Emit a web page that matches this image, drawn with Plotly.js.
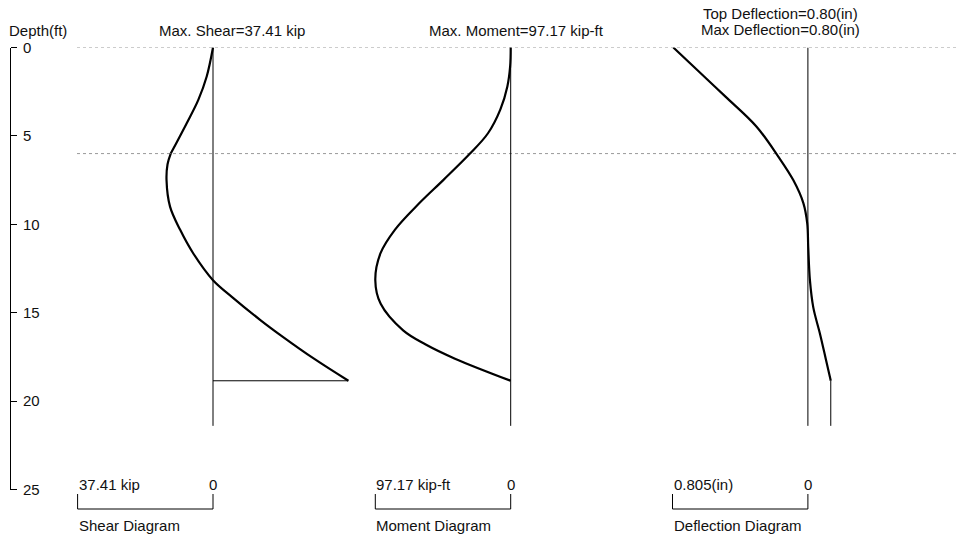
<!DOCTYPE html>
<html>
<head>
<meta charset="utf-8">
<script src="https://cdn.plot.ly/plotly-3.0.1.min.js"></script>
<style>html,body{margin:0;padding:0;background:#fff;}#chart{width:956px;height:537px;}</style>
</head>
<body>
<div id="chart"></div>
<script>
// ---------------- DATA ----------------
const depthTicks = [0, 5, 10, 15, 20, 25];
const layerDepths = [0, 6.0];
const pileTip = 18.85;
const zeroLineEnd = 21.4;

const maxShear = 37.41;      // kip
const maxMoment = 97.17;     // kip-ft
const maxDefl = 0.805;       // in (scale)
const topDefl = 0.80;

// Shear (kip), negative = left
const shearDepth = [0, 1.64, 2.96, 4.28, 6.0, 6.6, 7.5, 9.0, 10.3, 11.65, 13.16, 14.1, 15.4, 16.35, 17.6, 18.85];
const shearVal   = [0, -1.74, -4.06, -7.26, -11.68, -12.56, -12.84, -11.87, -9.11, -5.44, 0, 5.2, 13.0, 19.2, 27.9, 37.41];

// Moment (kip-ft)
const momentDepth = [0, 1.07, 2.2, 3.5, 4.85, 6.0, 7.5, 8.8, 10.3, 11.65, 13.16, 14.5, 16.0, 16.8, 17.6, 18.85];
const momentVal   = [0, -0.4, -2.4, -7.4, -16.3, -29.2, -48.4, -65.5, -83.0, -93.5, -97.17, -93.3, -77.2, -61.0, -40.0, 0];

// Deflection (in)
const deflDepth = [0, 1.64, 2.78, 4.48, 6.17, 7.5, 8.8, 9.95, 11.3, 13.16, 14.7, 16.2, 17.6, 18.85];
const deflVal   = [-0.80, -0.617, -0.49, -0.305, -0.176, -0.087, -0.027, -0.004, 0.002, 0.012, 0.032, 0.072, 0.106, 0.136];

// ---------------- LAYOUT CONSTANTS ----------------
const W = 956, H = 537;
const y0px = 47.5, y25px = 489.5;
const barLen = 135.4;
const shearZeroPx = 213.0, momentZeroPx = 510.7, deflZeroPx = 807.9;
const FONT = {family: 'Liberation Sans, Arial, sans-serif', size: 15, color: '#111'};

function xRange(zeroPx, full) { const k = barLen / full; return [-zeroPx / k, (W - zeroPx) / k]; }
function py(p) { return 1 - p / H; }
function px(p) { return p / W; }

const curve = {color: '#000', width: 2.2, shape: 'spline', smoothing: 1};
const thin = {color: '#000', width: 1};

// split shear at layer boundary to keep the kink
const kIdx = shearDepth.indexOf(layerDepths[1]);
const traces = [
  {x: shearVal.slice(0, kIdx + 1), y: shearDepth.slice(0, kIdx + 1), xaxis: 'x', yaxis: 'y', mode: 'lines', line: curve},
  {x: shearVal.slice(kIdx), y: shearDepth.slice(kIdx), xaxis: 'x', yaxis: 'y', mode: 'lines', line: curve},
  {x: [0, 0], y: [0, zeroLineEnd], xaxis: 'x', yaxis: 'y', mode: 'lines', line: thin},
  {x: [shearVal[shearVal.length - 1], 0], y: [pileTip, pileTip], xaxis: 'x', yaxis: 'y', mode: 'lines', line: thin},

  {x: momentVal, y: momentDepth, xaxis: 'x2', yaxis: 'y', mode: 'lines', line: curve},
  {x: [0, 0], y: [0, zeroLineEnd], xaxis: 'x2', yaxis: 'y', mode: 'lines', line: thin},

  {x: deflVal, y: deflDepth, xaxis: 'x3', yaxis: 'y', mode: 'lines', line: curve},
  {x: [0, 0], y: [0, zeroLineEnd], xaxis: 'x3', yaxis: 'y', mode: 'lines', line: thin},
  {x: [deflVal[deflVal.length - 1], deflVal[deflVal.length - 1]], y: [pileTip, zeroLineEnd], xaxis: 'x3', yaxis: 'y', mode: 'lines', line: thin}
];

const hiddenX = (zero, full, extra) => Object.assign({visible: false, range: xRange(zero, full), domain: [0, 1], fixedrange: true}, extra || {});

const shapes = [];
layerDepths.forEach(d => shapes.push({type: 'line', xref: 'paper', yref: 'y', x0: px(77), x1: 1, y0: d, y1: d,
  line: {color: '#9a9a9a', width: 1, dash: 'dot'}, layer: 'below'}));
[['x', maxShear], ['x2', maxMoment], ['x3', maxDefl]].forEach(([ax, full]) => {
  shapes.push({type: 'path', xref: ax, yref: 'paper',
    path: `M ${-full},${py(494)} L ${-full},${py(509)} L 0,${py(509)} L 0,${py(494)}`,
    line: {color: '#000', width: 1}});
});

const ann = (text, x, y, xanchor, xref) => ({text, x, y, xref: xref || 'paper', yref: 'paper', xanchor, yanchor: 'middle', showarrow: false, font: FONT, borderpad: 0});
const annotations = [
  ann('Depth(ft)', px(8), py(31), 'left'),
  ann('Max. Shear=' + maxShear.toFixed(2) + ' kip', px(232), py(31), 'center'),
  ann('Max. Moment=' + maxMoment.toFixed(2) + ' kip-ft', px(516), py(31), 'center'),
  ann('Top Deflection=' + topDefl.toFixed(2) + '(in)', px(780), py(14), 'center'),
  ann('Max Deflection=' + topDefl.toFixed(2) + '(in)', px(780), py(29), 'center'),

  ann(maxShear.toFixed(2) + ' kip', -maxShear, py(484), 'left', 'x'),
  ann('0', 0, py(484), 'center', 'x'),
  ann('Shear Diagram', -maxShear, py(525), 'left', 'x'),
  ann(maxMoment.toFixed(2) + ' kip-ft', -maxMoment, py(484), 'left', 'x2'),
  ann('0', 0, py(484), 'center', 'x2'),
  ann('Moment Diagram', -maxMoment, py(525), 'left', 'x2'),
  ann(maxDefl.toFixed(3) + '(in)', -maxDefl, py(484), 'left', 'x3'),
  ann('0', 0, py(484), 'center', 'x3'),
  ann('Deflection Diagram', -maxDefl, py(525), 'left', 'x3')
];

const layout = {
  width: W, height: H,
  margin: {l: 0, r: 0, t: 0, b: 0, pad: 0},
  paper_bgcolor: '#fff', plot_bgcolor: '#fff',
  showlegend: false,
  font: FONT,
  xaxis: hiddenX(shearZeroPx, maxShear),
  xaxis2: hiddenX(momentZeroPx, maxMoment, {overlaying: 'x'}),
  xaxis3: hiddenX(deflZeroPx, maxDefl, {overlaying: 'x'}),
  yaxis: {
    range: [25, 0], domain: [py(y25px), py(y0px)],
    anchor: 'free', position: px(10), side: 'right',
    tickvals: depthTicks, ticktext: depthTicks.map(String),
    ticks: 'outside', ticklen: 6, tickwidth: 1, tickcolor: '#000',
    showline: true, linecolor: '#000', linewidth: 1,
    showgrid: false, zeroline: false, tickfont: FONT, ticklabelstandoff: 3, fixedrange: true
  },
  shapes, annotations
};

Plotly.newPlot('chart', traces, layout, {displayModeBar: false, staticPlot: true});
</script>
</body>
</html>
